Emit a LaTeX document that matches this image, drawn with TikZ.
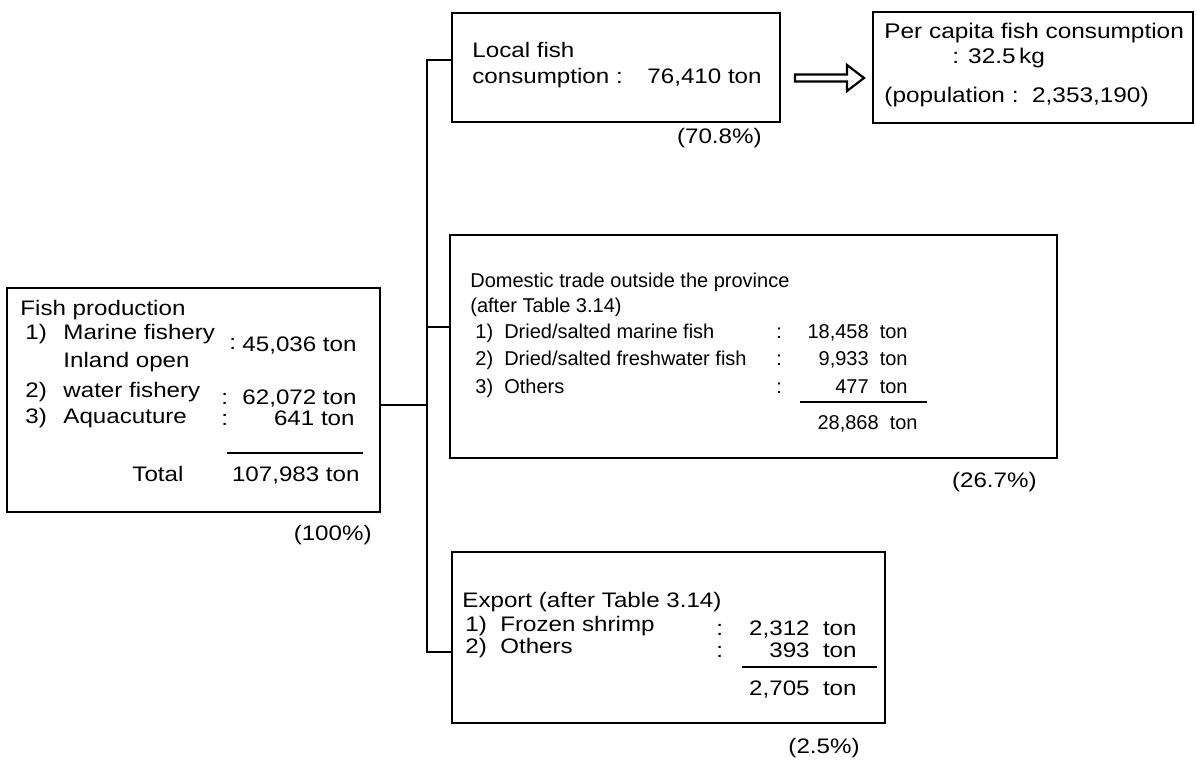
\documentclass[tikz,border=0pt]{standalone}
\usepackage{fontspec}
\setmainfont{Liberation Sans}
\newfontfamily\widefont[FakeStretch=1.15]{Liberation Sans}
\usetikzlibrary{fit}
\begin{document}
\begin{tikzpicture}[x=0.5pt,y=-0.5pt,
  box/.style={draw, line width=1pt, inner sep=0pt},
  wire/.style={draw, line width=1pt},
  rule/.style={draw, line width=0.8pt},
  tl/.style={anchor=mid west, inner sep=0pt},
  tr/.style={anchor=mid east, inner sep=0pt},
  fwide/.style={font=\widefont\fontsize{10.5}{12}\selectfont},
  fpc/.style={font=\widefont\fontsize{10.6}{13}\selectfont},
  fmid/.style={font=\fontsize{10}{12}\selectfont}]
\useasboundingbox[fill=white] (0,0) rectangle (1197,772);

% boxes
\node[box, fit={(7,288) (380,512)}] (prod) {};
\node[box, fit={(452,13) (780,122)}] (local) {};
\node[box, fit={(873,12) (1193,123)}] (percap) {};
\node[box, fit={(450,235) (1057,458)}] (dom) {};
\node[box, fit={(452,552) (885,723)}] (exp) {};

% connectors
\coordinate (jt) at (427,60);
\coordinate (jp) at (427,405);
\coordinate (jd) at (427,327);
\coordinate (jb) at (427,652);
\draw[wire] (jt -| local.west) -- (jt) -- (jb) -- (jb -| exp.west);
\draw[wire] (jp -| prod.east) -- (jp);
\draw[wire] (jd) -- (jd -| dom.west);

% block arrow between local and percap
\draw[line width=1.1pt] (795,74.5) -- (847,74.5) -- (847,65) -- (864,78) -- (847,91) -- (847,81.5) -- (795,81.5) -- cycle;

% production box text
\begin{scope}[every node/.append style={fwide}]
\node[tl] (p0) at (20,310) {Fish production};
\node[tl] (p1n) at (25,334) {1)};
\node[tl] (p1) at (63,334) {Marine fishery};
\node[tl] (p1c) at (229,344) {:};
\node[tr] (p1v) at (357,346) {45,036 ton};
\node[tl] (p2a) at (63,362) {Inland open};
\node[tl] (p2n) at (25,392) {2)};
\node[tl] (p2) at (63,392) {water fishery};
\node[tl] (p2c) at (221,399) {:};
\node[tr] (p2v) at (357,399) {62,072 ton};
\node[tl] (p3n) at (25,418) {3)};
\node[tl] (p3) at (63,418) {Aquacuture};
\node[tl] (p3c) at (221,420) {:};
\node[tr] (p3v) at (355,420) {641 ton};
\node[tl] (pt) at (132,476) {Total};
\node[tr] (ptv) at (360,476) {107,983 ton};
\node[tr] (pp) at (372,535) {(100\%)};
\end{scope}
\draw[rule] (227,453) -- (363,453);

% local consumption
\begin{scope}[every node/.append style={fwide}]
\node[tl] (l1) at (472,52) {Local fish};
\node[tl] (l2) at (472,78) {consumption :};
\node[tr] (l2v) at (762,78) {76,410 ton};
\node[tr] (lp) at (762,138) {(70.8\%)};
\end{scope}

% per capita
\begin{scope}[every node/.append style={fpc}]
\node[tl] (c1) at (884,33) {Per capita fish consumption};
\node[tl] (c2) at (952,58) {: 32.5\,kg};
\node[tl] (c3) at (884,97) {(population :\ \ 2,353,190)};
\end{scope}

% domestic trade
\begin{scope}[every node/.append style={fmid}]
\node[tl] (d0) at (470,282) {Domestic trade outside the province};
\node[tl] (d0b) at (470,307) {(after Table 3.14)};
\node[tl] (d1) at (475,333) {1)\ \ Dried/salted marine fish};
\node[tl] (d1c) at (776,333) {:};
\node[tr] (d1v) at (908,333) {18,458\ \ ton};
\node[tl] (d2) at (475,360) {2)\ \ Dried/salted freshwater fish};
\node[tl] (d2c) at (776,360) {:};
\node[tr] (d2v) at (908,360) {9,933\ \ ton};
\node[tl] (d3) at (475,388) {3)\ \ Others};
\node[tl] (d3c) at (776,388) {:};
\node[tr] (d3v) at (908,388) {477\ \ ton};
\node[tr] (dt) at (918,424) {28,868\ \ ton};
\end{scope}
\draw[rule] (800,402) -- (927,402);
\node[tr, fwide] (dp) at (1037,482) {(26.7\%)};

% export
\begin{scope}[every node/.append style={fwide}]
\node[tl] (e0) at (462,602) {Export (after Table 3.14)};
\node[tl] (e1) at (465,626) {1)\ \ Frozen shrimp};
\node[tl] (e1c) at (716,630) {:};
\node[tr] (e1v) at (857,630) {2,312\ \ ton};
\node[tl] (e2) at (465,648) {2)\ \ Others};
\node[tl] (e2c) at (716,652) {:};
\node[tr] (e2v) at (857,652) {393\ \ ton};
\node[tr] (et) at (857,690) {2,705\ \ ton};
\node[tr] (ep) at (860,748) {(2.5\%)};
\end{scope}
\draw[rule] (742,667) -- (877,667);
\end{tikzpicture}
\end{document}
